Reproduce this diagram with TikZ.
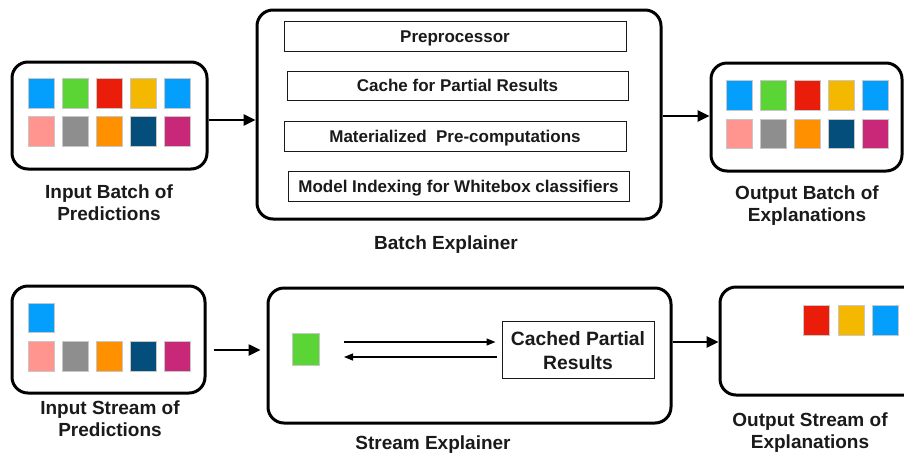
\documentclass[tikz,border=0pt]{standalone}
\usepackage{fontspec}
\setmainfont{Liberation Sans}
\usetikzlibrary{arrows.meta}

\definecolor{cblue}{HTML}{049EFC}
\definecolor{cgreen}{HTML}{5BD535}
\definecolor{cred}{HTML}{EA1D0A}
\definecolor{cyellow}{HTML}{F4B800}
\definecolor{cpink}{HTML}{FF958E}
\definecolor{cgray}{HTML}{8E8E8E}
\definecolor{corange}{HTML}{FF9100}
\definecolor{cnavy}{HTML}{044E7C}
\definecolor{cmagenta}{HTML}{C92777}
\definecolor{ink}{HTML}{1A1A1A}

\tikzset{
  framed/.style={draw=ink, line width=1pt, inner sep=0pt, text=ink},
  innerbox/.style={framed, text height=12.2pt, text depth=0pt,
    font=\fontsize{17}{20}\selectfont\bfseries},
  bigbox/.style={draw=black, line width=3pt, rounded corners=16pt, fill=white, inner sep=0pt},
  sq/.style={draw=black!22, line width=0.6pt, minimum width=26pt, minimum height=29.5pt, inner sep=0pt},
  caption/.style={inner sep=0pt, align=center, text=ink,
    font=\fontsize{19}{22}\selectfont\bfseries},
  flow/.style={line width=2.5pt, -{Triangle[length=12pt,width=11pt]}},
  thinflow/.style={line width=1.2pt, -{Triangle[length=9pt,width=7pt]}},
}

\begin{document}
\begin{tikzpicture}[x=1pt,y=-1pt]
\useasboundingbox (0,0) rectangle (904,456);
\clip (0,0) rectangle (904,456);

% ---------- batch pipeline ----------
\node[bigbox, minimum width=195pt, minimum height=107pt] (inb) at (109.5,115.5) {};
\node[bigbox, minimum width=404pt, minimum height=209pt] (be) at (459,114.5) {};
\node[bigbox, minimum width=191pt, minimum height=108pt] (outb) at (806.5,117) {};

% colour squares of the input batch
\foreach \c/\x in {cblue/41,cgreen/75,cred/109.5,cyellow/143.5,cblue/177.5}
  \node[sq, fill=\c] (ib1\x) at (\x,93.5) {};
\foreach \c/\x in {cpink/41,cgray/75,corange/109.5,cnavy/143.5,cmagenta/177.5}
  \node[sq, fill=\c] (ib2\x) at (\x,131.5) {};

% colour squares of the output batch
\foreach \c/\x in {cblue/739,cgreen/773,cred/807,cyellow/841,cblue/875}
  \node[sq, fill=\c] (ob1\x) at (\x,95.5) {};
\foreach \c/\x in {cpink/739,cgray/773,corange/807,cnavy/841,cmagenta/875}
  \node[sq, fill=\c] (ob2\x) at (\x,134) {};

% components of the batch explainer
\node[innerbox, minimum width=342pt, minimum height=30pt] (pre) at (455,36) {Preprocessor};
\node[innerbox, minimum width=341pt, minimum height=29pt] (cache) at (457.5,85.5) {Cache for Partial Results};
\node[innerbox, minimum width=342pt, minimum height=30pt] (mat) at (455,136) {Materialized\ \ Pre-computations};
\node[innerbox, minimum width=341pt, minimum height=30pt] (idx) at (458.5,186) {Model Indexing for Whitebox classifiers};

\draw[flow] (inb.east |- 0,120) -- (be.west |- 0,120);
\draw[flow] (be.east |- 0,116) -- (outb.west |- 0,116);

\node[caption] (inbl) at (109,203) {Input Batch of\\Predictions};
\node[caption] (bel) at (446,245) {Batch Explainer};
\node[caption] (outbl) at (807,206) {Output Batch of\\Explanations};

% ---------- stream pipeline ----------
\node[bigbox, minimum width=193pt, minimum height=107pt] (ins) at (108.5,339.5) {};
\node[bigbox, minimum width=403pt, minimum height=135pt] (se) at (469.5,355.5) {};
\node[bigbox, minimum width=220pt, minimum height=108pt] (outs) at (830,341) {};

% colour squares of the input stream
\node[sq, fill=cblue] (is0) at (41,318) {};
\foreach \c/\x in {cpink/41,cgray/75,corange/109.5,cnavy/143.5,cmagenta/177.5}
  \node[sq, fill=\c] (is\x) at (\x,356.5) {};

% colour squares of the output stream
\foreach \c/\x in {cred/816.5,cyellow/851,cblue/885}
  \node[sq, fill=\c] (os\x) at (\x,320.5) {};

% current item and the cache of the stream explainer
\node[sq, fill=cgreen, minimum width=27pt, minimum height=32pt] (cur) at (305.5,349) {};
\node[framed, minimum width=152pt, minimum height=57pt] (cp) at (578,349.5) {};
\node[inner sep=0pt, align=center, text=ink, font=\fontsize{19.3}{24}\selectfont\bfseries]
      (cpt) at (578,351) {Cached Partial\\Results};

\coordinate (lookup) at (344,342);
\coordinate (reply) at (344,357);
\draw[thinflow, shorten >=6pt] (lookup) -- (cp.west |- lookup);
\draw[thinflow, shorten <=5pt] (cp.west |- reply) -- (reply);

\draw[flow, shorten <=7pt, shorten >=6pt] (ins.east |- 0,350) -- (se.west |- 0,350);
\draw[flow] (se.east |- 0,342) -- (outs.west |- 0,342);

\node[caption] (insl) at (110,419) {Input Stream of\\Predictions};
\node[caption] (sel) at (433,445) {Stream Explainer};
\node[caption] (outsl) at (810,433) {Output Stream of\\Explanations};
\end{tikzpicture}
\end{document}
